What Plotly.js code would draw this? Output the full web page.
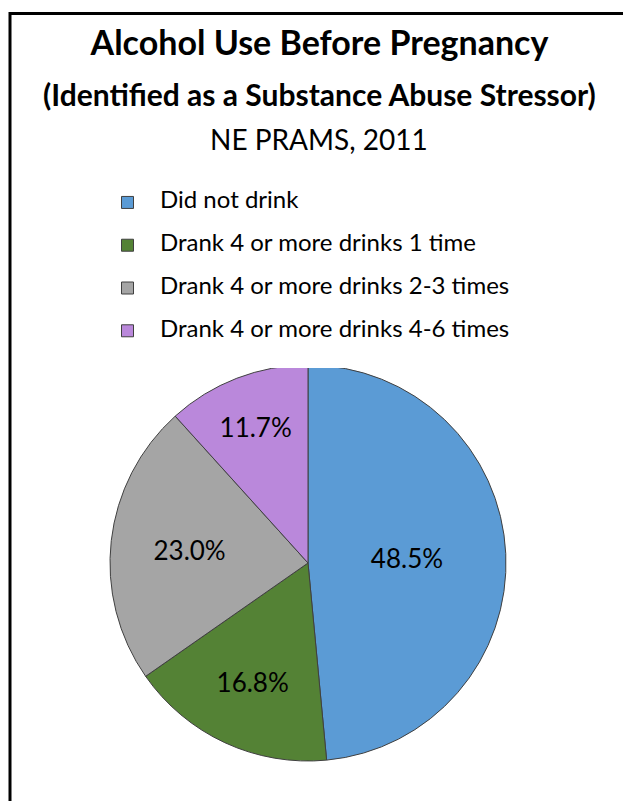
<!DOCTYPE html>
<html>
<head>
<meta charset="utf-8">
<script src="https://cdn.plot.ly/plotly-3.0.1.min.js"></script>
<style>html,body{margin:0;padding:0;background:#fff;}#chart{width:623px;height:801px;}</style>
</head>
<body>
<div id="chart"></div>
<script>
const categories = [
  "Did not drink",
  "Drank 4 or more drinks 1 time",
  "Drank 4 or more drinks 2-3 times",
  "Drank 4 or more drinks 4-6 times"
];
const percentValues = [48.5, 16.8, 23.0, 11.7];
const sliceColors = ["#5B9BD5", "#548235", "#A5A5A5", "#BA88DB"];
const titleLine1 = "Alcohol Use Before Pregnancy";
const titleLine2 = "(Identified as a Substance Abuse Stressor)";
const titleLine3 = "NE PRAMS, 2011";

const W = 623, H = 801;
const FONT = "Lato, 'Open Sans', sans-serif";
const px = v => v / W;
const py = v => 1 - v / H;

// legend labels: visible text at 24px, blank second line to widen row spacing
const legendLabels = categories.map(c => '<span style="font-size:24px">' + c + '</span><br> ');

const trace = {
  type: "pie",
  labels: legendLabels,
  values: percentValues,
  sort: false,
  direction: "clockwise",
  rotation: 0,
  marker: { colors: sliceColors, line: { color: "#404040", width: 1 } },
  texttemplate: "%{value:.1f}%",
  textposition: "inside",
  insidetextorientation: "horizontal",
  textfont: { family: FONT, size: 26, color: "#000" },
  hoverinfo: "percent",
  domain: { x: [px(110), px(506)], y: [py(761), py(365)] }
};

const layout = {
  width: W, height: H,
  margin: { l: 0, r: 0, t: 0, b: 0 },
  paper_bgcolor: "#fff",
  showlegend: true,
  legend: {
    x: px(95), y: py(186), xanchor: "left", yanchor: "top",
    font: { family: FONT, size: 15.3, color: "#000" },
    valign: "top",
    itemwidth: 55,
    traceorder: "normal"
  },
  title: {
    text: "<b>" + titleLine1 + "</b>",
    x: px(319.5), xanchor: "center", y: py(43), yanchor: "middle",
    font: { family: FONT, size: 34, color: "#000" }
  },
  annotations: [
    { text: "<b>" + titleLine2 + "</b>", xref: "paper", yref: "paper", x: px(320), y: py(94),
      xanchor: "center", yanchor: "middle", showarrow: false,
      font: { family: FONT, size: 30, color: "#000" } },
    { text: titleLine3, xref: "paper", yref: "paper", x: px(319), y: py(139),
      xanchor: "center", yanchor: "middle", showarrow: false,
      font: { family: FONT, size: 28, color: "#000" } }
  ],
  shapes: [
    { type: "line", xref: "paper", yref: "paper", x0: px(9.5), x1: px(640), y0: py(13.5), y1: py(13.5),
      line: { color: "#000", width: 3 } },
    { type: "line", xref: "paper", yref: "paper", x0: px(10), x1: px(10), y0: py(12), y1: py(830),
      line: { color: "#000", width: 3 } }
  ]
};

Plotly.newPlot("chart", [trace], layout, { displayModeBar: false, staticPlot: true });
</script>
</body>
</html>
